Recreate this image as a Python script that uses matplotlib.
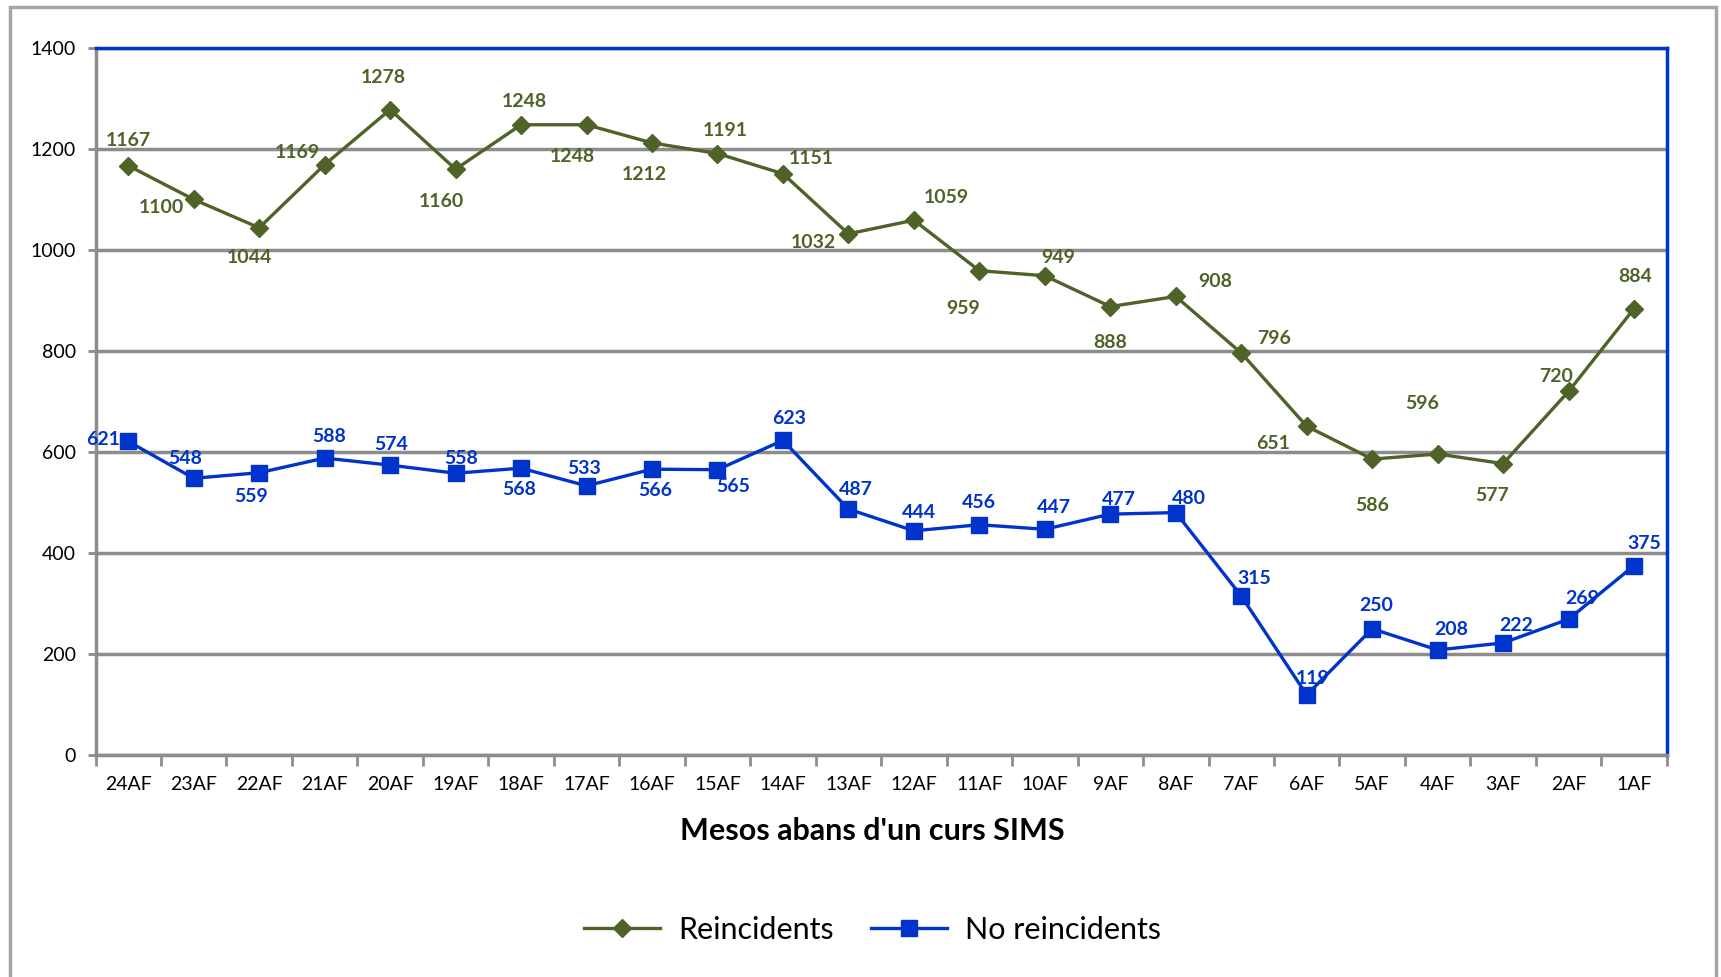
import numpy as np
import matplotlib
matplotlib.use("Agg")
import matplotlib.pyplot as plt
from matplotlib.patches import Rectangle

plt.rcParams['font.family'] = ['Lato', 'DejaVu Sans']

months = ['24AF', '23AF', '22AF', '21AF', '20AF', '19AF', '18AF', '17AF',
          '16AF', '15AF', '14AF', '13AF', '12AF', '11AF', '10AF', '9AF',
          '8AF', '7AF', '6AF', '5AF', '4AF', '3AF', '2AF', '1AF']
reincidents = [1167, 1100, 1044, 1169, 1278, 1160, 1248, 1248, 1212, 1191, 1151, 1032,
               1059, 959, 949, 888, 908, 796, 651, 586, 596, 577, 720, 884]
no_reincidents = [621, 548, 559, 588, 574, 558, 568, 533, 566, 565, 623, 487,
                  444, 456, 447, 477, 480, 315, 119, 250, 208, 222, 269, 375]

# label offsets (pixels on the small preview), converted below
green_off = [(0, -23), (-29, 7), (-9, 27), (-25, -11), (-6, -29), (-13, 29), (3, -21), (-13, 29),
             (-7, 29), (7, -21), (26, -14), (-32, 8), (30, -21), (-15, 34), (12, -17), (0, 33),
             (36, -14), (30, -13), (-31, 16), (0, 42), (-14, -46), (-10, 29), (-11, -14), (1, -29)]
blue_off = [(-23, -2), (-8, -18), (-7, 22), (4, -20), (1, -19), (5, -13), (-2, 19), (-2, -16),
            (3, 19), (14, 15), (6, -20), (7, -18), (5, -17), (0, -20), (8, -20), (8, -13),
            (12, -13), (12, -16), (5, -15), (4, -21), (12, -19), (12, -16), (12, -19), (9, -20)]

green = '#4F6228'
blue = '#0033CC'
gridc = '#8C8C8C'

fig = plt.figure(figsize=(17.21, 9.77), dpi=100)
ax = fig.add_axes([0.0555, 0.2272, 0.913, 0.7237])

x = np.arange(len(months))
ax.plot(x, reincidents, color=green, lw=2.4, marker='D', ms=9, label='Reincidents', zorder=3)
ax.plot(x, no_reincidents, color=blue, lw=2.4, marker='s', ms=11, label='No reincidents', zorder=3)

k = 1.0976 * 0.72
for i in range(len(x)):
    dx, dy = green_off[i]
    ax.annotate(str(reincidents[i]), (x[i], reincidents[i]), xytext=(dx * k, -dy * k),
                textcoords='offset points', ha='center', va='center',
                color=green, fontsize=14, fontweight='bold', zorder=4)
    dx, dy = blue_off[i]
    ax.annotate(str(no_reincidents[i]), (x[i], no_reincidents[i]), xytext=(dx * k, -dy * k),
                textcoords='offset points', ha='center', va='center',
                color=blue, fontsize=14, fontweight='bold', zorder=4)

ax.set_xlim(-0.5, len(months) - 0.5)
ax.set_ylim(0, 1400)
ax.set_yticks(range(0, 1401, 200))
ax.set_xticks(x)
ax.set_xticklabels(months, fontsize=14)
ax.set_xticks(np.arange(-0.5, len(months), 1), minor=True)
ax.tick_params(axis='x', which='major', length=0, pad=15)
ax.tick_params(axis='x', which='minor', length=8, width=2, color=gridc, direction='out')
ax.tick_params(axis='y', length=6, width=2, color=gridc, labelsize=14, pad=8)

ax.yaxis.grid(True, color=gridc, lw=2.5)
ax.set_axisbelow(True)
for s in ['top', 'right']:
    ax.spines[s].set_color(blue)
    ax.spines[s].set_linewidth(2.5)
for s in ['left', 'bottom']:
    ax.spines[s].set_color(gridc)
    ax.spines[s].set_linewidth(2.5)

fig.text(0.507, 0.1495, "Mesos abans d'un curs SIMS", ha='center', va='center',
         fontsize=22, fontweight='bold')

fig.legend(loc='center', bbox_to_anchor=(0.507, 0.0485), ncol=2, frameon=False,
           fontsize=22, handlelength=2.5, columnspacing=1.2, handletextpad=0.6)

fig.patches.append(Rectangle((0.006, -0.05), 0.991, 1.043, transform=fig.transFigure,
                             fill=False, edgecolor='#A6A6A6', lw=2.5))

fig.savefig('out.png', dpi=100)
